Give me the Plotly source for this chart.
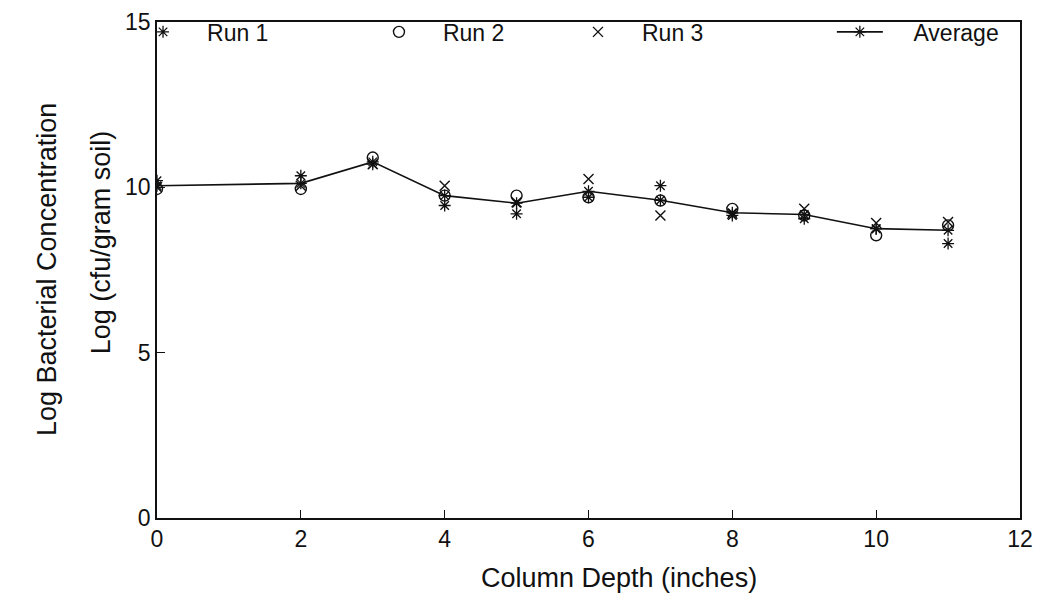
import plotly.graph_objects as go

# Column depth (inches) at which soil samples were taken
depth = [0, 2, 3, 4, 5, 6, 7, 8, 9, 10, 11]

# Log bacterial concentration, log(cfu/gram soil), per run
run1 = [10.2, 10.35, 10.7, 9.45, 9.2, 9.7, 10.05, 9.15, 9.05, 8.75, 8.3]
run2 = [9.95, 9.95, 10.9, 9.75, 9.75, 9.7, 9.6, 9.35, 9.15, 8.55, 8.85]
run3 = [10.0, 10.05, 10.7, 10.05, 9.55, 10.25, 9.15, 9.2, 9.35, 8.92, 8.95]
average = [10.05, 10.12, 10.77, 9.75, 9.52, 9.88, 9.61, 9.23, 9.18, 8.75, 8.7]

x_ticks = [0, 2, 4, 6, 8, 10, 12]
y_ticks = [0, 5, 10, 15]

FONT = "Liberation Sans, Arial, sans-serif"
BLACK = "#111111"
NBSP = "\u00a0"

fig = go.Figure()

fig.add_trace(go.Scatter(
    x=depth, y=run1, mode="markers", name="Run 1", legend="legend",
    marker=dict(symbol="asterisk-open", size=10, color=BLACK,
                line=dict(width=1.3, color=BLACK)),
))
fig.add_trace(go.Scatter(
    x=depth, y=run2, mode="markers", name="Run 2", legend="legend2",
    marker=dict(symbol="circle-open", size=11, color=BLACK,
                line=dict(width=1.4, color=BLACK)),
))
fig.add_trace(go.Scatter(
    x=depth, y=run3, mode="markers", name="Run 3", legend="legend3",
    marker=dict(symbol="x-thin-open", size=10, color=BLACK,
                line=dict(width=1.4, color=BLACK)),
))
fig.add_trace(go.Scatter(
    x=depth, y=average, mode="lines+markers",
    name=NBSP * 4 + "Average", legend="legend4",
    line=dict(color=BLACK, width=1.6),
    marker=dict(symbol="asterisk-open", size=10, color=BLACK,
                line=dict(width=1.3, color=BLACK)),
))

axis_common = dict(
    showgrid=False, zeroline=False, showline=True, linecolor=BLACK,
    linewidth=1.5, mirror=True, ticks="inside", ticklen=8, tickwidth=1.2,
    tickcolor=BLACK, tickfont=dict(family=FONT, size=23, color=BLACK),
)

fig.update_xaxes(
    range=[0, 12], tickvals=x_ticks, ticktext=[str(v) for v in x_ticks],
    **axis_common,
)
fig.update_yaxes(
    range=[0, 15], tickvals=y_ticks, ticktext=[str(v) for v in y_ticks],
    **axis_common,
)

# Axis titles
fig.add_annotation(
    text="Column Depth (inches)", xref="paper", yref="paper",
    x=0.5, y=0, xanchor="center", yanchor="middle", xshift=30, yshift=-60,
    showarrow=False, font=dict(family=FONT, size=27, color=BLACK),
)
fig.add_annotation(
    text="Log Bacterial Concentration", xref="paper", yref="paper",
    x=0, y=0.5, xanchor="center", yanchor="middle", xshift=-110,
    textangle=-90, showarrow=False,
    font=dict(family=FONT, size=27, color=BLACK),
)
fig.add_annotation(
    text="Log (cfu/gram soil)", xref="paper", yref="paper",
    x=0, y=0.556, xanchor="center", yanchor="middle", xshift=-56,
    textangle=-90, showarrow=False,
    font=dict(family=FONT, size=27, color=BLACK),
)

legend_common = dict(
    orientation="h", y=0.98, xanchor="left", yanchor="middle",
    bgcolor="rgba(0,0,0,0)", font=dict(family=FONT, size=23, color=BLACK),
)

fig.update_layout(
    width=1045, height=596,
    margin=dict(l=157, r=25, t=22, b=78, autoexpand=False),
    plot_bgcolor="white", paper_bgcolor="white",
    font=dict(family=FONT, color=BLACK),
    showlegend=True,
    legend=dict(x=-0.044, itemwidth=78, **legend_common),
    legend2=dict(x=0.2294, itemwidth=78, **legend_common),
    legend3=dict(x=0.460, itemwidth=78, **legend_common),
    legend4=dict(x=0.782, itemwidth=46, **legend_common),
)

fig.write_html("out.html")
